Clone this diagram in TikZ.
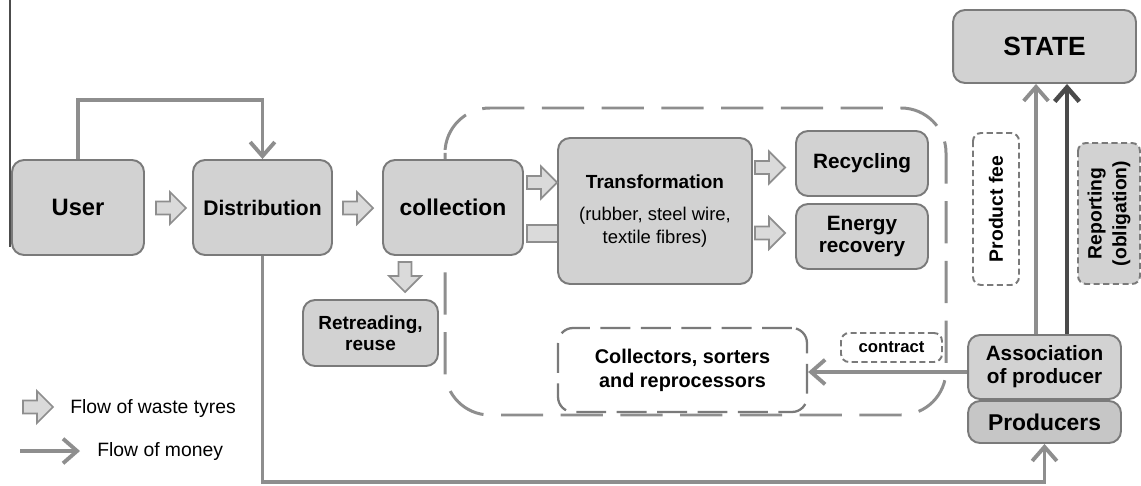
\documentclass[tikz,border=0pt]{standalone}
\usepackage{fontspec}
\setmainfont{Liberation Sans}
\usetikzlibrary{arrows.meta,calc}
\definecolor{boxfill}{HTML}{D2D2D2}
\definecolor{prodfill}{HTML}{C6C6C6}
\definecolor{boxline}{HTML}{7A7A7A}
\definecolor{moneygray}{HTML}{8E8E8E}
\definecolor{moneydark}{HTML}{4A4A4A}
\definecolor{flowfill}{HTML}{DADADA}

\begin{document}
\begin{tikzpicture}[x=0.02cm, y=-0.02cm,
  box/.style={draw=boxline, fill=boxfill, rounded corners=0.24cm, line width=1.1pt,
    align=center, font=\bfseries, inner sep=0pt},
  dashbox/.style={draw=boxline, fill=white, rounded corners=0.16cm, line width=1.1pt,
    dash pattern=on 3.5pt off 2pt, align=center, font=\bfseries, inner sep=0pt},
  region/.style={draw=moneygray, line width=1.7pt, dash pattern=on 24pt off 10pt,
    rounded corners=0.9cm},
  flowarrow/.style={draw=moneygray, fill=flowfill, line width=1pt, line join=miter},
  money/.style={draw=moneygray, line width=2.2pt, -{Straight Barb[length=8pt,width=14pt]}},
  legend/.style={anchor=west, inner sep=0pt, font=\fontsize{11}{13}\selectfont},
  pics/tyreflow/.style={code={
    \draw[flowarrow] (0,-6.5) -- (14,-6.5) -- (14,-16) -- (30,0) -- (14,16)
      -- (14,6.5) -- (0,6.5) -- cycle;
  }}
]
  \useasboundingbox (0,0) rectangle (1141,486);
  %% thin edge line on the left
  \draw[black!70, line width=0.8pt] (10,0) -- (10,247);

  %% dashed area of the processing chain
  \draw[region] (445,108) rectangle (946,415);

  %% lower waste arrow, head hidden under the transformation box
  \draw[flowarrow] (527,225) -- (575,225) -- (575,215) -- (595,233.5)
    -- (575,252) -- (575,242) -- (527,242) -- cycle;

  %% main chain
  \node[box, minimum width=2.64cm, minimum height=1.9cm,
    font=\bfseries\fontsize{13.5}{15}\selectfont] (user) at (78,207.5) {User};
  \node[box, minimum width=2.78cm, minimum height=1.9cm,
    font=\bfseries\fontsize{12}{14}\selectfont] (distr) at (262.5,207.5) {Distribution};
  \node[box, minimum width=2.8cm, minimum height=1.9cm,
    font=\bfseries\fontsize{13}{15}\selectfont] (coll) at (453,207.5) {collection};
  \node[box, minimum width=3.88cm, minimum height=2.92cm,
    font=\fontsize{10.5}{13}\selectfont] (transf) at (655,211)
    {\textbf{\fontsize{10.8}{13}\selectfont Transformation}\\[5pt] (rubber, steel wire,\\ textile fibres)};
  \node[box, minimum width=2.64cm, minimum height=1.3cm,
    font=\bfseries\fontsize{11.8}{13}\selectfont] (recyc) at (862,163.5) {Recycling};
  \node[box, minimum width=2.64cm, minimum height=1.3cm,
    font=\bfseries\fontsize{11.8}{12}\selectfont] (energy) at (862,236.5) {Energy\\recovery};
  \node[box, minimum width=2.7cm, minimum height=1.32cm,
    font=\bfseries\fontsize{10.8}{12}\selectfont] (retread) at (370.5,333) {Retreading,\\reuse};
  \node[dashbox, rounded corners=0.3cm, minimum width=4.98cm, minimum height=1.68cm,
    dash pattern=on 17pt off 6pt, line width=1.3pt,
    font=\bfseries\fontsize{11.3}{13.6}\selectfont] (collectors) at (682.5,370)
    {Collectors, sorters\\and reprocessors};

  %% state side
  \node[box, minimum width=3.66cm, minimum height=1.46cm,
    font=\bfseries\fontsize{15}{17}\selectfont] (state) at (1044.5,46.5) {STATE};
  \node[box, minimum width=3.06cm, minimum height=1.28cm,
    font=\bfseries\fontsize{11.8}{13}\selectfont] (assoc) at (1044.5,367) {Association\\of producer};
  \node[box, fill=prodfill, minimum width=3.06cm, minimum height=0.84cm,
    font=\bfseries\fontsize{13}{15}\selectfont] (prod) at (1044.5,422) {Producers};
  \node[dashbox, rotate=90, minimum width=3.04cm, minimum height=0.92cm,
    font=\bfseries\fontsize{11}{12}\selectfont] (fee) at (996,209) {Product fee};
  \node[dashbox, fill=boxfill, rotate=90, minimum width=2.82cm, minimum height=1.24cm,
    font=\bfseries\fontsize{11}{14}\selectfont] (report) at (1109,213.5) {Reporting\\(obligation)};
  \node[dashbox, minimum width=2.02cm, minimum height=0.58cm,
    font=\bfseries\fontsize{9.5}{11}\selectfont] (contract) at (891.5,347.5) {contract};

  %% flow of waste tyres
  \pic at (156,208) {tyreflow};
  \pic at (343,208) {tyreflow};
  \pic at (527,182.5) {tyreflow};
  \pic at (755,167.5) {tyreflow};
  \pic at (755,233) {tyreflow};
  \pic[rotate=-90] at (405,262) {tyreflow};

  %% flow of money
  \coordinate (usertop) at (78,100);
  \coordinate (moneyline) at (650,482);
  \coordinate (contractline) at (0,372);
  \coordinate (feeline) at (1036,0);
  \coordinate (repline) at (1067,0);
  \draw[money] (user.north) -- (usertop) -| (distr.north);
  \draw[money] (distr.south) |- (moneyline) -| (prod.south);
  \draw[money] (assoc.west |- contractline) -- (collectors.east |- contractline);
  \draw[money] (feeline |- assoc.north) -- (feeline |- state.south);
  \draw[money, draw=moneydark, line width=2.6pt] (repline |- assoc.north) -- (repline |- state.south);

  %% legend
  \pic at (23,407) {tyreflow};
  \node[legend] (lgwaste) at (70,408) {Flow of waste tyres};
  \coordinate (lgstart) at (20,451);
  \coordinate (lgend) at (80,451);
  \draw[money] (lgstart) -- (lgend);
  \node[legend] (lgmoney) at (97,451) {Flow of money};
\end{tikzpicture}
\end{document}
